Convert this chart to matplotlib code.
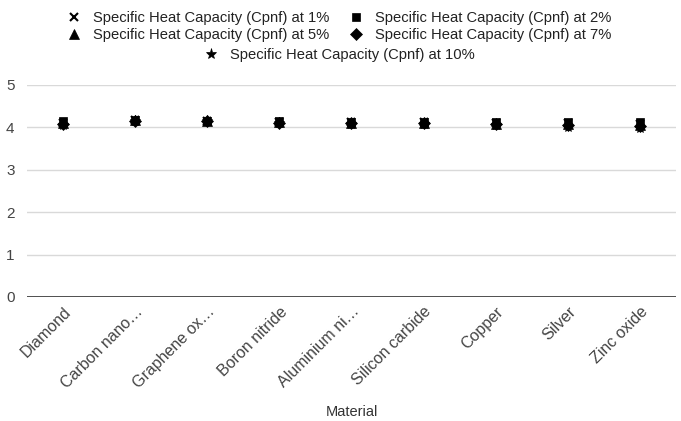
import matplotlib.pyplot as plt
import numpy as np

plt.rcParams['font.family'] = ['Liberation Sans', 'DejaVu Sans']

materials = ['Diamond', 'Carbon nano…', 'Graphene ox…', 'Boron nitride', 'Aluminium ni…',
             'Silicon carbide', 'Copper', 'Silver', 'Zinc oxide']
cp_1 = [4.10, 4.17, 4.16, 4.13, 4.12, 4.12, 4.11, 4.10, 4.08]
cp_2 = [4.14, 4.17, 4.16, 4.14, 4.13, 4.13, 4.13, 4.13, 4.13]
cp_5 = [4.10, 4.17, 4.16, 4.12, 4.11, 4.11, 4.09, 4.08, 4.05]
cp_7 = [4.09, 4.16, 4.15, 4.11, 4.10, 4.10, 4.08, 4.06, 4.03]
cp_10 = [4.06, 4.16, 4.14, 4.10, 4.08, 4.07, 4.05, 4.02, 3.98]

series = [
    ('Specific Heat Capacity (Cpnf) at 1%', cp_1, 'x', 6),
    ('Specific Heat Capacity (Cpnf) at 2%', cp_2, 's', 6),
    ('Specific Heat Capacity (Cpnf) at 5%', cp_5, '^', 7),
    ('Specific Heat Capacity (Cpnf) at 7%', cp_7, 'D', 6),
    ('Specific Heat Capacity (Cpnf) at 10%', cp_10, '*', 8),
]

fig = plt.figure(figsize=(6.81, 4.21), dpi=100)
ax = fig.add_axes([27/681, 1-297/421, 649/681, 212/421])

x = np.arange(len(materials))
handles = {}
for name, vals, m, ms in series:
    h, = ax.plot(x, vals, linestyle='none', marker=m, markersize=ms, color='black',
                 markeredgewidth=1.5 if m == 'x' else 0.5, label=name, zorder=3)
    handles[name] = h

ax.set_xlim(-0.5, len(materials) - 0.5)
ax.set_ylim(0, 5)
ax.set_yticks(range(6))
ax.yaxis.grid(True, color='#d9d9d9', linewidth=1)
ax.set_axisbelow(True)
ax.axhline(0, color='#333333', linewidth=1.2, zorder=2)
for s in ax.spines.values():
    s.set_visible(False)
ax.tick_params(length=0, colors='#444444', labelsize=11)
ax.tick_params(axis='y', pad=9)
ax.tick_params(axis='x', pad=5, labelsize=11.5)
ax.set_xticks(x)
ax.set_xticklabels(materials, rotation=45, ha='right', rotation_mode='anchor')
ax.set_xlabel('Material', fontsize=10.5, color='#333333', labelpad=10)

names = [s[0] for s in series]
leg1 = fig.legend([handles[names[0]], handles[names[2]], handles[names[1]], handles[names[3]]],
                  [names[0], names[2], names[1], names[3]], ncol=2, frameon=False,
                  loc='upper center', bbox_to_anchor=(0.497, 1.006), fontsize=10.6,
                  handletextpad=0.7, columnspacing=1.2, labelspacing=0.2, handlelength=1.2)
leg2 = fig.legend([handles[names[4]]], [names[4]], frameon=False,
                  loc='upper center', bbox_to_anchor=(0.497, 0.918), fontsize=10.6,
                  handletextpad=0.7, handlelength=1.2)
for lg in (leg1, leg2):
    for t in lg.get_texts():
        t.set_color('#222222')

fig.savefig('out.png', dpi=100)
